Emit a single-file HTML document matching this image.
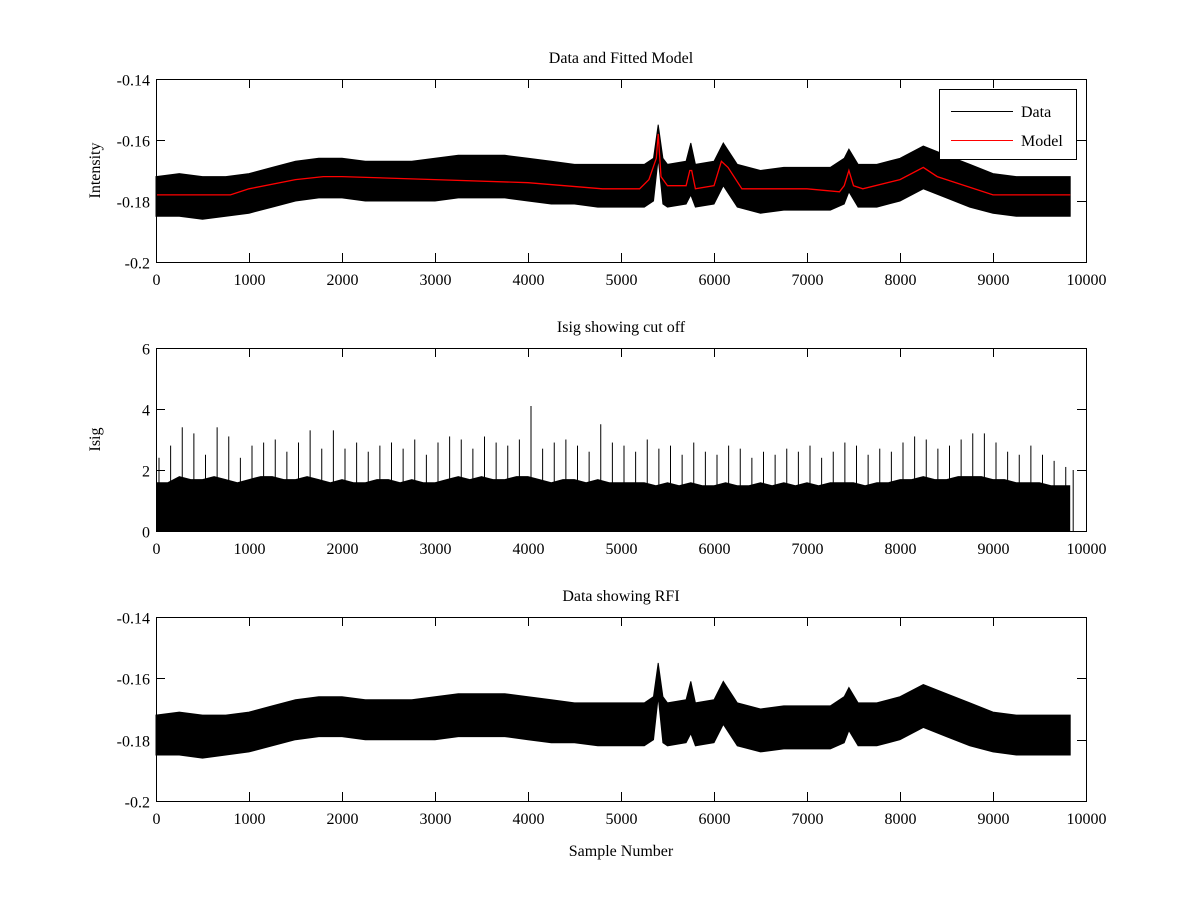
<!DOCTYPE html>
<html><head><meta charset="utf-8"><style>
body{margin:0;background:#fff}
svg{display:block}
text{font-family:"Liberation Serif",serif;font-size:16px;fill:#000}
</style></head><body>
<svg id="fig" width="1200" height="900" xmlns="http://www.w3.org/2000/svg"></svg>
<script>
// ---- data ----
const bandX    = [0,250,500,750,1000,1250,1500,1750,2000,2250,2500,2750,3000,3250,3500,3750,4000,4250,4500,4750,5000,5250,5350,5400,5450,5500,5700,5750,5800,6000,6100,6250,6500,6750,7000,7250,7400,7450,7550,7750,8000,8250,8500,8750,9000,9250,9500,9830];
const bandHi   = [-0.172,-0.171,-0.172,-0.172,-0.171,-0.169,-0.167,-0.166,-0.166,-0.167,-0.167,-0.167,-0.166,-0.165,-0.165,-0.165,-0.166,-0.167,-0.168,-0.168,-0.168,-0.168,-0.166,-0.155,-0.166,-0.168,-0.167,-0.161,-0.168,-0.167,-0.161,-0.168,-0.170,-0.169,-0.169,-0.169,-0.166,-0.163,-0.168,-0.168,-0.166,-0.162,-0.165,-0.168,-0.171,-0.172,-0.172,-0.172];
const bandLo   = [-0.185,-0.185,-0.186,-0.185,-0.184,-0.182,-0.180,-0.179,-0.179,-0.180,-0.180,-0.180,-0.180,-0.179,-0.179,-0.179,-0.180,-0.181,-0.181,-0.182,-0.182,-0.182,-0.180,-0.166,-0.181,-0.182,-0.181,-0.178,-0.182,-0.181,-0.175,-0.182,-0.184,-0.183,-0.183,-0.183,-0.181,-0.177,-0.182,-0.182,-0.180,-0.176,-0.179,-0.182,-0.184,-0.185,-0.185,-0.185];
const modelX   = [0,800,1000,1500,1800,2000,3000,4000,4800,5200,5300,5380,5400,5430,5500,5700,5740,5760,5800,6000,6080,6150,6300,6500,7000,7350,7400,7450,7500,7600,8000,8250,8400,9000,9830];
const modelY   = [-0.178,-0.178,-0.176,-0.173,-0.172,-0.172,-0.173,-0.174,-0.176,-0.176,-0.173,-0.166,-0.158,-0.172,-0.175,-0.175,-0.170,-0.170,-0.176,-0.175,-0.167,-0.169,-0.176,-0.176,-0.176,-0.177,-0.175,-0.170,-0.175,-0.176,-0.173,-0.169,-0.172,-0.178,-0.178];
const isigX    = [0,125,250,375,500,625,750,875,1000,1125,1250,1375,1500,1625,1750,1875,2000,2125,2250,2375,2500,2625,2750,2875,3000,3125,3250,3375,3500,3625,3750,3875,4000,4125,4250,4375,4500,4625,4750,4875,5000,5125,5250,5375,5500,5625,5750,5875,6000,6125,6250,6375,6500,6625,6750,6875,7000,7125,7250,7375,7500,7625,7750,7875,8000,8125,8250,8375,8500,8625,8750,8875,9000,9125,9250,9375,9500,9625,9750,9830];
const isigMax  = [2.4,2.8,3.4,3.2,2.5,3.4,3.1,2.4,2.8,2.9,3.0,2.6,2.9,3.3,2.7,3.3,2.7,2.9,2.6,2.8,2.9,2.7,3.0,2.5,2.9,3.1,3.0,2.7,3.1,2.9,2.8,3.0,4.1,2.7,2.9,3.0,2.8,2.6,3.5,2.9,2.8,2.6,3.0,2.7,2.8,2.5,2.9,2.6,2.5,2.8,2.7,2.4,2.6,2.5,2.7,2.6,2.8,2.4,2.6,2.9,2.8,2.5,2.7,2.6,2.9,3.1,3.0,2.7,2.8,3.0,3.2,3.2,2.9,2.6,2.5,2.8,2.5,2.3,2.1,2.0];
const isigDense= [1.6,1.6,1.8,1.7,1.7,1.8,1.7,1.6,1.7,1.8,1.8,1.7,1.7,1.8,1.7,1.6,1.7,1.6,1.6,1.7,1.7,1.6,1.7,1.6,1.6,1.7,1.8,1.7,1.8,1.7,1.7,1.8,1.8,1.7,1.6,1.7,1.7,1.6,1.7,1.6,1.6,1.6,1.6,1.5,1.6,1.5,1.6,1.5,1.5,1.6,1.5,1.5,1.6,1.5,1.6,1.5,1.6,1.5,1.6,1.6,1.6,1.5,1.6,1.6,1.7,1.7,1.8,1.7,1.7,1.8,1.8,1.8,1.7,1.7,1.6,1.6,1.6,1.5,1.5,1.5];
const xTicks   = [0,1000,2000,3000,4000,5000,6000,7000,8000,9000,10000];
const intTicks = [-0.2,-0.18,-0.16,-0.14];
const intLabels= ["-0.2","-0.18","-0.16","-0.14"];
const isigTicks= [0,2,4,6];

const NS="http://www.w3.org/2000/svg";
const svg=document.getElementById('fig');
function mk(tag,attrs,parent){const e=document.createElementNS(NS,tag);for(const k in attrs)e.setAttribute(k,attrs[k]);(parent||svg).appendChild(e);return e;}
const L=156,R=1086;
const sx=v=>L+(v/10000)*(R-L);

function axes(name,top,bot,ymin,ymax,yt,ylabels,title,ylabel,xlabel){
  const g=mk('g',{});
  
  
  const sy=v=>bot-(v-ymin)/(ymax-ymin)*(bot-top);
  const plot=mk('g',{},g);
  
  
  const frame=mk('rect',{x:L,y:top,width:R-L,height:bot-top,fill:'#fff',stroke:'none'},plot);
  
  
  return {g,plot,sy,finish(){
    const box=mk('rect',{x:L+0.5,y:top+0.5,width:R-L,height:bot-top,fill:'none',stroke:'#000','stroke-width':1},g);
    
    
    xTicks.forEach(t=>{
      const x=Math.round(sx(t))+0.5;
      mk('line',{x1:x,x2:x,y1:bot,y2:bot-9,stroke:'#000'},g);
      mk('line',{x1:x,x2:x,y1:top,y2:top+9,stroke:'#000'},g);
      const tx=mk('text',{x:x,y:bot+23,'text-anchor':'middle'},g);
      tx.textContent=t;
      
      
    });
    yt.forEach((t,i)=>{
      const y=Math.round(sy(t))+0.5;
      mk('line',{x1:L,x2:L+9,y1:y,y2:y,stroke:'#000'},g);
      mk('line',{x1:R,x2:R-9,y1:y,y2:y,stroke:'#000'},g);
      const tx=mk('text',{x:L-6,y:y+6,'text-anchor':'end'},g);
      tx.textContent=ylabels[i];
      
      
    });
    const tt=mk('text',{x:(L+R)/2,y:top-16,'text-anchor':'middle'},g);
    tt.textContent=title;
    
    
    if(ylabel){
      const yl=mk('text',{x:0,y:0,'text-anchor':'middle',transform:`translate(100,${(top+bot)/2}) rotate(-90)`},g);
      yl.textContent=ylabel;
      
      
    }
    if(xlabel){
      const xl=mk('text',{x:(L+R)/2,y:bot+55,'text-anchor':'middle'},g);
      xl.textContent=xlabel;
      
      
    }
  }};
}

function band(ax,name){
  let d='M'+bandX.map((x,i)=>sx(x).toFixed(1)+','+ax.sy(bandHi[i]).toFixed(1)).join('L');
  for(let i=bandX.length-1;i>=0;i--) d+='L'+sx(bandX[i]).toFixed(1)+','+ax.sy(bandLo[i]).toFixed(1);
  const p=mk('path',{d:d+'Z',fill:'#000',stroke:'#000','stroke-width':1},ax.plot);
  
  
}

// Top panel
const a1=axes('data-fitted-panel',79,262,-0.2,-0.14,intTicks,intLabels,'Data and Fitted Model','Intensity',null);
band(a1,'data-series');
const mline=mk('polyline',{points:modelX.map((x,i)=>sx(x).toFixed(1)+','+a1.sy(modelY[i]).toFixed(1)).join(' '),fill:'none',stroke:'#f00','stroke-width':1.3},a1.plot);


a1.finish();
// legend
const lg=mk('g',{},a1.g);


mk('rect',{x:939.5,y:89.5,width:137,height:70,fill:'#fff',stroke:'#000'},lg);
const le1=mk('line',{x1:951,x2:1013,y1:111.5,y2:111.5,stroke:'#000'},lg);


const lt1=mk('text',{x:1021,y:117},lg);lt1.textContent='Data';
const le2=mk('line',{x1:951,x2:1013,y1:140.5,y2:140.5,stroke:'#f00'},lg);


const lt2=mk('text',{x:1021,y:146},lg);lt2.textContent='Model';

// Middle panel
const a2=axes('isig-panel',348,531,0,6,isigTicks,isigTicks.map(String),'Isig showing cut off','Isig',null);
let dd='M'+sx(0)+','+a2.sy(0);
isigX.forEach((x,i)=>{dd+='L'+sx(x).toFixed(1)+','+a2.sy(isigDense[i]).toFixed(1);});
dd+='L'+sx(isigX[isigX.length-1]).toFixed(1)+','+a2.sy(0)+'Z';
const dense=mk('path',{d:dd,fill:'#000'},a2.plot);


isigX.forEach((x,i)=>{
  const s=mk('line',{x1:sx(x)+3,x2:sx(x)+3,y1:a2.sy(0),y2:a2.sy(isigMax[i]),stroke:'#000','stroke-width':1},a2.plot);
  
  
});
a2.finish();

// Bottom panel
const a3=axes('rfi-panel',617,801,-0.2,-0.14,intTicks,intLabels,'Data showing RFI',null,'Sample Number');
band(a3,'rfi-data-series');
a3.finish();
</script>
</body></html>
